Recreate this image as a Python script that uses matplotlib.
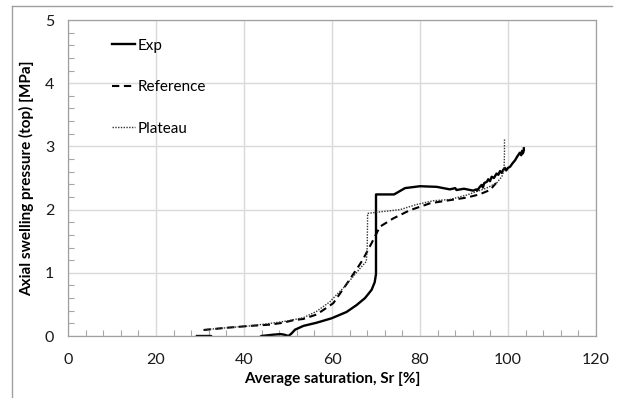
import matplotlib
matplotlib.use("Agg")
import matplotlib.pyplot as plt
from matplotlib.lines import Line2D
from matplotlib.ticker import MultipleLocator

plt.rcParams['font.family'] = ['Lato', 'DejaVu Sans']

# Experimental curve
exp_sr = [29.3, 32.5, 33.0, 43.0, 44.0, 46.5, 48.3, 49.2, 50.1, 50.8, 51.6, 53.5, 56.5,
          59.9, 63.3, 65.6, 67.5, 69.0, 69.7, 70.0, 70.0, 74.1, 76.6, 80.0, 83.8,
          86.8, 88.0, 88.3, 90.0, 92.1, 92.8, 93.0, 93.6, 94.0, 94.3, 94.6, 95.2,
          95.5, 95.9, 96.3, 96.8, 97.4, 97.8, 98.2, 98.6, 98.9, 99.3, 99.6, 100.0,
          100.5, 101.0, 101.6, 102.1, 102.7, 103.0, 103.2, 103.4, 103.6, 103.6]
exp_p = [0.0, 0.0, -0.04, -0.04, 0.0, 0.02, 0.03, 0.02, 0.0, 0.04, 0.1, 0.16, 0.21,
         0.28, 0.38, 0.49, 0.6, 0.73, 0.85, 0.98, 2.24, 2.24, 2.34, 2.37, 2.36,
         2.32, 2.34, 2.31, 2.33, 2.30, 2.32, 2.30, 2.36, 2.39, 2.35, 2.42, 2.44,
         2.48, 2.45, 2.52, 2.50, 2.57, 2.55, 2.61, 2.58, 2.63, 2.66, 2.62, 2.66,
         2.68, 2.73, 2.78, 2.84, 2.90, 2.86, 2.93, 2.89, 2.94, 2.97]

# Reference model
ref_sr = [30.8, 36.0, 41.4, 45.9, 48.9, 51.2, 53.5, 56.5, 58.0, 60.3, 63.3, 66.2,
          67.1, 69.0, 70.9, 73.9, 77.7, 82.3, 86.8, 90.6, 93.5, 95.9, 97.3]
ref_p = [0.095, 0.13, 0.16, 0.18, 0.21, 0.25, 0.27, 0.34, 0.41, 0.52, 0.82, 1.12,
         1.22, 1.47, 1.73, 1.86, 1.99, 2.1, 2.15, 2.19, 2.24, 2.31, 2.42]

# Plateau model
pla_sr = [31.0, 36.0, 41.4, 46.0, 50.0, 53.5, 56.5, 59.5, 61.0, 62.6, 64.8, 66.5,
          67.8, 68.0, 68.1, 71.7, 75.5, 79.2, 83.0, 86.8, 90.6, 95.1, 97.4, 98.6,
          99.1, 99.2, 99.2]
pla_p = [0.1, 0.13, 0.16, 0.2, 0.24, 0.29, 0.39, 0.54, 0.65, 0.76, 0.94, 1.08,
         1.18, 1.4, 1.94, 1.97, 2.0, 2.08, 2.14, 2.16, 2.23, 2.34, 2.42, 2.52,
         2.63, 2.9, 3.13]

x_ticks = [0, 20, 40, 60, 80, 100, 120]
y_ticks = [0, 1, 2, 3, 4, 5]

fig = plt.figure(figsize=(6.19, 3.98), dpi=100)
ax = fig.add_axes([68 / 619, 62 / 398, 528 / 619, 316 / 398])

ax.plot(exp_sr, exp_p, color='black', lw=1.7, label='Exp')
ax.plot(ref_sr, ref_p, color='black', lw=1.5, linestyle=(0, (3.5, 2.2)), label='Reference')
ax.plot(pla_sr, pla_p, color='#333333', lw=1.0, linestyle=(0, (1, 1)), label='Plateau')

ax.set_xlim(0, 120)
ax.set_ylim(0, 5)
ax.set_xticks(x_ticks)
ax.set_yticks(y_ticks)
ax.xaxis.set_minor_locator(MultipleLocator(4))
ax.yaxis.set_minor_locator(MultipleLocator(0.2))
ax.grid(True, which='major', color='#d9d9d9', lw=1.0)
ax.set_axisbelow(True)
ax.tick_params(which='major', length=0, labelsize=11.5, labelcolor='#1a1a1a')
ax.tick_params(axis='x', which='major', pad=12)
ax.tick_params(axis='y', which='major', pad=10)
ax.tick_params(which='minor', direction='in', length=4, color='#a6a6a6', width=0.8)
for s in ax.spines.values():
    s.set_color('#a0a0a0')
    s.set_linewidth(0.9)

ax.set_xlabel('Average saturation, Sr [%]', fontsize=11, fontweight='bold', labelpad=4)
ax.set_ylabel('Axial swelling pressure (top) [MPa]', fontsize=11, fontweight='bold', labelpad=8)

ax.legend(loc='upper left', bbox_to_anchor=(36 / 528, 0.965), frameon=False,
          borderpad=0, handlelength=1.5, handletextpad=0.2, labelspacing=1.8,
          fontsize=11)

# Outer frame around the chart area
fig.add_artist(Line2D([12 / 619, 612 / 619], [1 - 6 / 398, 1 - 6 / 398],
                      transform=fig.transFigure, color='#a0a0a0', lw=1.0))
fig.add_artist(Line2D([12 / 619, 12 / 619], [0, 1 - 6 / 398],
                      transform=fig.transFigure, color='#a0a0a0', lw=1.0))

fig.savefig('out.png', dpi=100)
